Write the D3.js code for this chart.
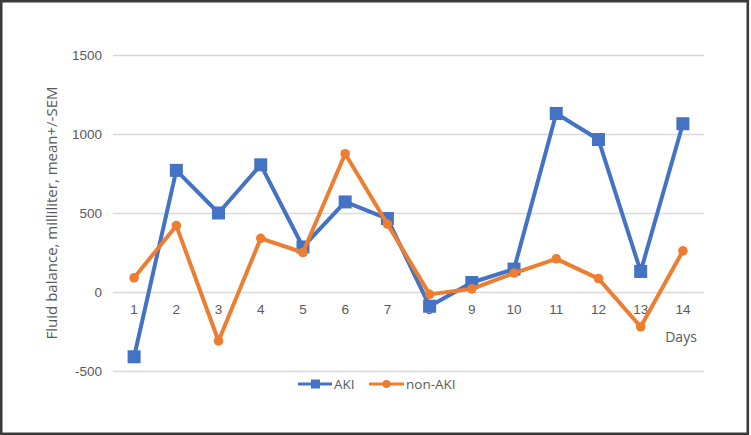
<!DOCTYPE html>
<html>
<head>
<meta charset="utf-8">
<script src="https://d3js.org/d3.v7.min.js"></script>
<style>
  body { margin: 0; background: #fff; }
  svg { display: block; font-family: "Open Sans", sans-serif; }
  .tick text { fill: #595959; font-size: 13.5px; }
</style>
</head>
<body>
<div id="chart"></div>
<script>
// data
const days = ["1","2","3","4","5","6","7","8","9","10","11","12","13","14"];
const akiValues = [-410, 770, 500, 805, 285, 570, 465, -90, 60, 145, 1130, 965, 130, 1065];
const nonAkiValues = [90, 420, -310, 340, 250, 875, 430, -15, 20, 120, 210, 85, -220, 260];
const yTicks = [-500, 0, 500, 1000, 1500];
const seriesNames = ["AKI", "non-AKI"];

const W = 751, H = 435;
const plot = { left: 113, right: 704, top: 55, bottom: 371 };

const svg = d3.select("#chart").append("svg")
  .attr("width", W).attr("height", H);

// outer frame
svg.append("rect")
  .attr("x", 1.2).attr("y", 1.2)
  .attr("width", 746.6).attr("height", 432.6)
  .attr("fill", "#fff")
  .attr("stroke", "#3a3a3a").attr("stroke-width", 2.6);

const x = d3.scaleBand().domain(days).range([plot.left, plot.right]);
const y = d3.scaleLinear().domain([-500, 1500]).range([plot.bottom, plot.top]);
const cx = d => x(d) + x.bandwidth() / 2;

// gridlines + y labels (plain hyphen, no thousands separator)
const yAxis = svg.append("g")
  .attr("transform", `translate(${plot.left},0)`)
  .call(d3.axisLeft(y).tickValues(yTicks).tickFormat(d => String(d))
    .tickSize(-(plot.right - plot.left)).tickPadding(11));
yAxis.select(".domain").remove();
yAxis.selectAll(".tick line").attr("stroke", "#d9d9d9").attr("stroke-width", 1.3);

// category labels sit just under the zero line
const xAxis = svg.append("g")
  .attr("transform", `translate(0,${y(0)})`)
  .call(d3.axisBottom(x).tickSize(0).tickPadding(12));
xAxis.select(".domain").remove();

// y title
svg.append("text")
  .attr("transform", `translate(57,${(plot.top + plot.bottom) / 2}) rotate(-90)`)
  .attr("text-anchor", "middle")
  .attr("font-size", 15)
  .attr("fill", "#595959")
  .text("Fluid balance, milliliter, mean+/-SEM");

// x title
svg.append("text")
  .attr("x", 681).attr("y", 342)
  .attr("text-anchor", "middle")
  .attr("font-size", 14)
  .attr("fill", "#595959")
  .text("Days");

const line = d3.line().x((d, i) => cx(days[i])).y(d => y(d));
const blue = "#4472c4", orange = "#ed7d31";

svg.append("path").datum(akiValues)
  .attr("d", line).attr("fill", "none")
  .attr("stroke", blue).attr("stroke-width", 4).attr("stroke-linejoin", "round");
svg.selectAll(".aki").data(akiValues).join("rect")
  .attr("class", "aki")
  .attr("x", (d, i) => cx(days[i]) - 6.5).attr("y", d => y(d) - 6.5)
  .attr("width", 13).attr("height", 13)
  .attr("fill", blue);

svg.append("path").datum(nonAkiValues)
  .attr("d", line).attr("fill", "none")
  .attr("stroke", orange).attr("stroke-width", 4).attr("stroke-linejoin", "round");
svg.selectAll(".nonaki").data(nonAkiValues).join("circle")
  .attr("class", "nonaki")
  .attr("cx", (d, i) => cx(days[i])).attr("cy", d => y(d))
  .attr("r", 4.8)
  .attr("fill", orange);

// legend
const legend = svg.append("g").attr("transform", "translate(0,384)");
const lg1 = legend.append("g").attr("transform", "translate(298,0)");
lg1.append("line").attr("x1", 0).attr("x2", 34).attr("stroke", blue).attr("stroke-width", 3);
lg1.append("rect").attr("x", 13).attr("y", -4.5).attr("width", 9).attr("height", 9).attr("fill", blue);
lg1.append("text").attr("x", 36).attr("dy", "0.35em").attr("font-size", 13.5).attr("fill", "#595959").text(seriesNames[0]);

const lg2 = legend.append("g").attr("transform", "translate(369,0)");
lg2.append("line").attr("x1", 0).attr("x2", 35).attr("stroke", orange).attr("stroke-width", 3);
lg2.append("circle").attr("cx", 17.5).attr("r", 4).attr("fill", orange);
lg2.append("text").attr("x", 37).attr("dy", "0.35em").attr("font-size", 13.5).attr("fill", "#595959").text(seriesNames[1]);
</script>
</body>
</html>
